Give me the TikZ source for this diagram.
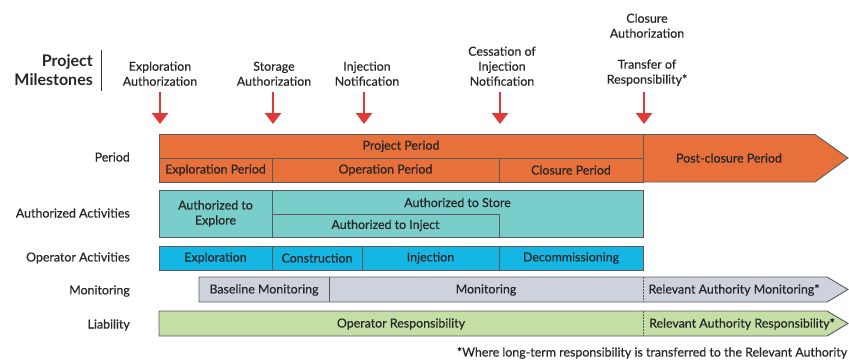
\documentclass[tikz,border=0pt]{standalone}
\usepackage{fontspec}
\setmainfont{Lato}
\newfontfamily\medfont{Lato}[FakeBold=0.35]
\usetikzlibrary{arrows.meta}
\definecolor{orng}{HTML}{E8703B}
\definecolor{tealc}{HTML}{79CDCB}
\definecolor{blu}{HTML}{14B6E3}
\definecolor{gry}{HTML}{CDD2DC}
\definecolor{grn}{HTML}{C4DEA6}
\definecolor{edge}{HTML}{5A5A5A}
\definecolor{redc}{HTML}{E03A36}
\tikzset{
  txt/.style={font=\medfont\fontsize{12.4}{15}\selectfont, text=black!85, inner sep=0pt},
  cell/.style={draw=edge, line width=0.9pt, inner sep=0pt, outer sep=0pt, anchor=north west,
     font=\medfont\fontsize{12.4}{15}\selectfont, text=black!85, align=center},
  rowlbl/.style={txt, anchor=east},
  mslbl/.style={txt, align=center, anchor=south},
  msarrow/.style={draw=redc, line width=2.6pt, -{Triangle[width=16pt,length=11pt]}},
  bandshape/.style={draw=edge, line width=0.9pt, line join=miter},
}
\begin{document}
\begin{tikzpicture}[x=1pt,y=-1pt]
\useasboundingbox (0,0) rectangle (849,361);
% Project milestones header
\node[txt, anchor=east, align=right, font=\fontsize{16}{19}\selectfont\bfseries] (pm) at (93,70) {Project\\Milestones};
\coordinate (vt) at (101,50); \coordinate (vb) at (101,91);
\draw[line width=0.9pt, black!80] (vt) -- (vb);
% milestone labels
\node[mslbl] (m1) at (160,86) {Exploration\\Authorization};
\node[mslbl] (m2) at (274,86) {Storage\\Authorization};
\node[mslbl] (m3) at (367,86) {Injection\\Notification};
\node[mslbl] (m4) at (502,86) {Cessation of\\Injection\\Notification};
\node[mslbl] (m5a) at (647,38) {Closure\\Authorization};
\node[mslbl] (m5) at (647,86) {Transfer of\\Responsibility*};
% arrows
\coordinate (a1s) at (160,92); \coordinate (a1e) at (160,124);
\coordinate (a2s) at (273,92); \coordinate (a2e) at (273,124);
\coordinate (a3s) at (364,92); \coordinate (a3e) at (364,124);
\coordinate (a4s) at (500,92); \coordinate (a4e) at (500,124);
\coordinate (a5s) at (644,92); \coordinate (a5e) at (644,124);
\foreach \i in {1,...,5}{\draw[msarrow] (a\i s) -- (a\i e);}
% row labels
\node[rowlbl] (lp) at (130,157) {Period};
\node[rowlbl] (la) at (130,213) {Authorized Activities};
\node[rowlbl] (lo) at (130,258) {Operator Activities};
\node[rowlbl] (lm) at (130,291) {Monitoring};
\node[rowlbl] (ll) at (130,325) {Liability};
% Period row
\draw[bandshape, fill=orng] (643,134.5) -- (815,134.5) -- (848,158) -- (815,182) -- (643,182) -- cycle;
\node[txt] (post) at (729,158) {Post-closure Period};
\node[cell, fill=orng, minimum width=484pt, minimum height=23.5pt] (pp) at (159,134.5) {Project Period};
\node[cell, fill=orng, minimum width=113pt, minimum height=24pt] (ep) at (159,158) {Exploration Period};
\node[cell, fill=orng, minimum width=227pt, minimum height=24pt] (op) at (272,158) {Operation Period};
\node[cell, fill=orng, minimum width=144pt, minimum height=24pt] (cp) at (499,158) {Closure Period};
% Authorized activities
\node[cell, fill=tealc, minimum width=113pt, minimum height=47pt] (ae) at (159,190) {Authorized to\\Explore};
\node[cell, fill=tealc, minimum width=371pt, minimum height=47pt] (as) at (272,190) {};
\node[txt] (ast) at (457.5,202.5) {Authorized to Store};
\node[cell, fill=tealc, minimum width=227pt, minimum height=23pt] (ai) at (272,214) {Authorized to Inject};
% Operator activities
\node[cell, fill=blu, minimum width=113pt, minimum height=24pt] (oe) at (159,246) {Exploration};
\node[cell, fill=blu, minimum width=90pt, minimum height=24pt] (oc) at (272,246) {Construction};
\node[cell, fill=blu, minimum width=137pt, minimum height=24pt] (oi) at (362,246) {Injection};
\node[cell, fill=blu, minimum width=144pt, minimum height=24pt] (od) at (499,246) {Decommissioning};
% Monitoring
\draw[bandshape, fill=gry] (199,277) -- (827,277) -- (848,289.5) -- (827,302) -- (199,302) -- cycle;
\coordinate (md1) at (329,277); \coordinate (md2) at (329,302);
\draw[draw=edge, line width=0.9pt] (md1) -- (md2);
\coordinate (mq1) at (643,277); \coordinate (mq2) at (643,302);
\draw[draw=edge, line width=0.6pt, dash pattern=on 1.5pt off 1.5pt] (mq1) -- (mq2);
\node[txt] (bm) at (264,290) {Baseline Monitoring};
\node[txt] (mon) at (486,290) {Monitoring};
\node[txt] (ram) at (734,290) {Relevant Authority Monitoring*};
% Liability
\draw[bandshape, fill=grn] (159,311) -- (827,311) -- (848,323.5) -- (827,336) -- (159,336) -- cycle;
\coordinate (lq1) at (643,311); \coordinate (lq2) at (643,336);
\draw[draw=edge, line width=0.6pt, dash pattern=on 1.5pt off 1.5pt] (lq1) -- (lq2);
\node[txt] (or) at (401,324) {Operator Responsibility};
\node[txt] (rar) at (742,324) {Relevant Authority Responsibility*};
% footnote
\node[txt] (fn) at (652,353) {*Where long-term responsibility is transferred to the Relevant Authority};
\end{tikzpicture}
\end{document}
